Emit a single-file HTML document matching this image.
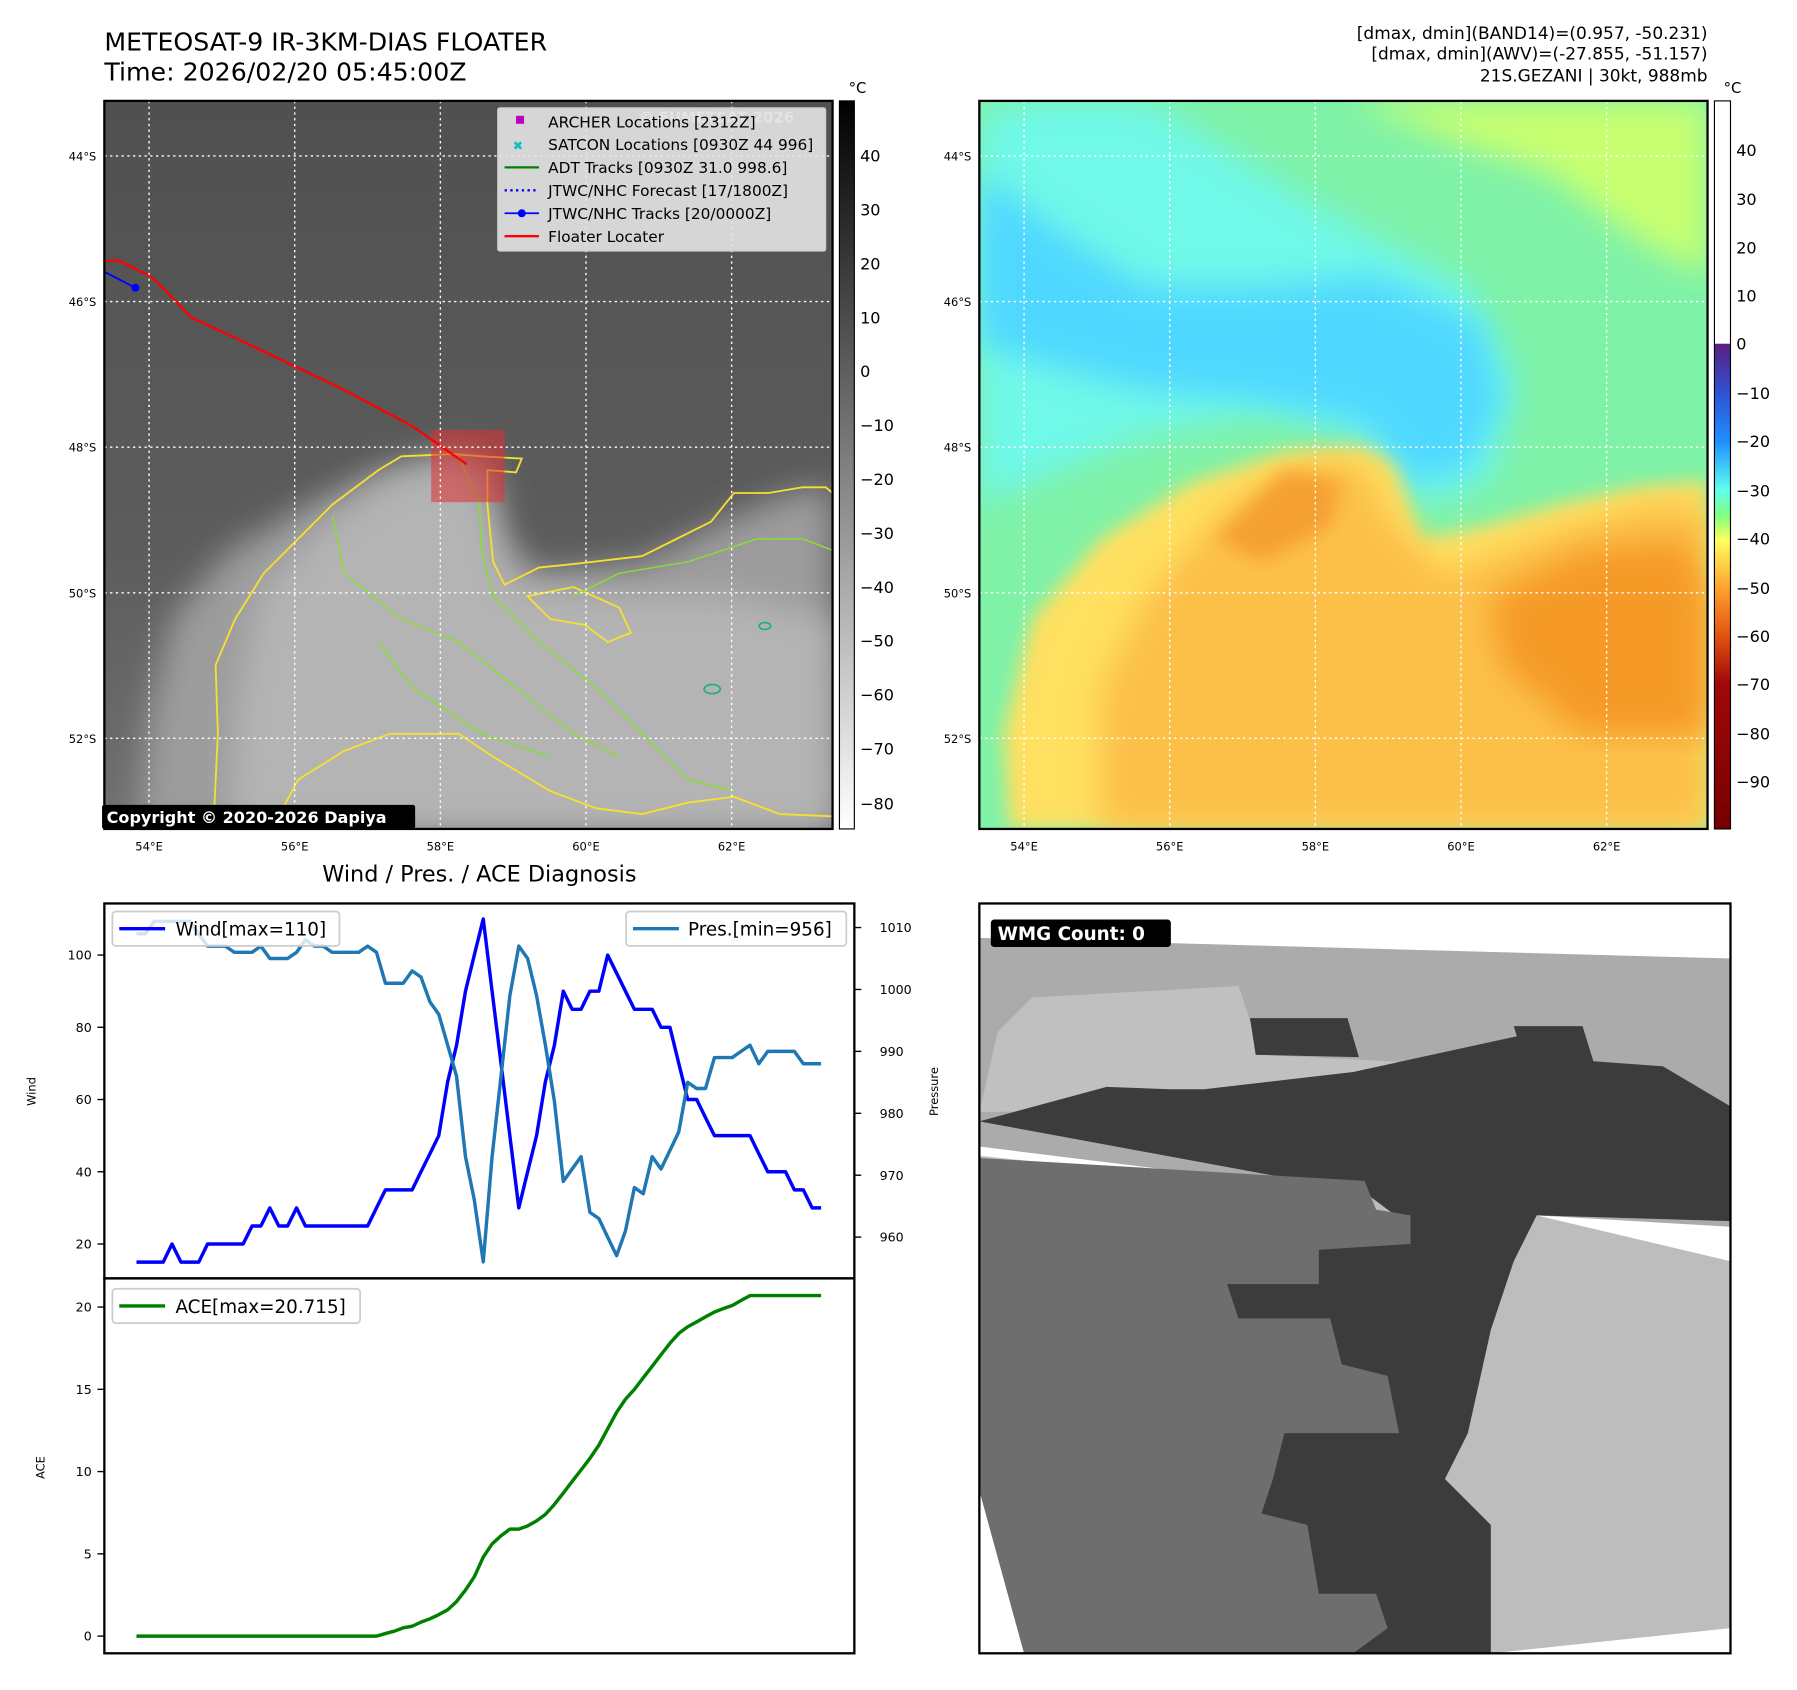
<!DOCTYPE html>
<html><head><meta charset="utf-8"><style>
html,body{margin:0;padding:0;background:#fff}
svg{display:block}
text{font-family:"DejaVu Sans","Liberation Sans",sans-serif}
</style></head><body>
<svg id="fig" xmlns="http://www.w3.org/2000/svg" width="1797" height="1690" viewBox="0 0 1567 1474" preserveAspectRatio="none">
<defs>
<filter id="blur8"><feGaussianBlur stdDeviation="8"/></filter>
<filter id="blur14"><feGaussianBlur stdDeviation="14"/></filter>
<clipPath id="c1"><rect x="91" y="88" width="635" height="635"/></clipPath>
<clipPath id="c2"><rect x="854" y="88" width="635" height="635"/></clipPath>
<clipPath id="c3"><rect x="854" y="788" width="655" height="654"/></clipPath>
<linearGradient id="gcb" x1="0" y1="0" x2="0" y2="1"><stop offset="0" stop-color="#000"/><stop offset="1" stop-color="#fff"/></linearGradient>
<linearGradient id="ccb" x1="0" y1="0" x2="0" y2="1">
<stop offset="0" stop-color="#fff"/><stop offset="0.333" stop-color="#fff"/>
<stop offset="0.334" stop-color="#5a2080"/><stop offset="0.40" stop-color="#3050d0"/>
<stop offset="0.468" stop-color="#1e90ff"/><stop offset="0.535" stop-color="#60fff0"/>
<stop offset="0.57" stop-color="#80ff80"/><stop offset="0.603" stop-color="#ffff60"/>
<stop offset="0.67" stop-color="#ffa030"/><stop offset="0.737" stop-color="#e05010"/>
<stop offset="0.80" stop-color="#a00808"/><stop offset="1" stop-color="#780000"/></linearGradient>
<linearGradient id="irbg" x1="0" y1="0" x2="0" y2="1"><stop offset="0" stop-color="#505050"/><stop offset="0.6" stop-color="#5c5c5c"/><stop offset="1" stop-color="#707070"/></linearGradient>
</defs>

<!-- Titles -->
<text x="91" y="44" font-size="22">METEOSAT-9 IR-3KM-DIAS FLOATER</text>
<text x="91" y="70" font-size="22">Time: 2026/02/20 05:45:00Z</text>
<g font-size="14.8" text-anchor="end">
<text x="1489" y="34">[dmax, dmin](BAND14)=(0.957, -50.231)</text>
<text x="1489" y="52">[dmax, dmin](AWV)=(-27.855, -51.157)</text>
<text x="1489" y="71">21S.GEZANI | 30kt, 988mb</text>
</g>

<!-- IR panel -->
<g clip-path="url(#c1)">
<rect x="91" y="88" width="635" height="635" fill="url(#irbg)"/>
<path d="M120,723 L130,620 L150,540 L200,480 L270,440 L330,410 L400,392 L430,405 L440,470 L470,500 L560,490 L630,455 L690,430 L726,425 L726,723 Z" fill="#9c9c9c" filter="url(#blur14)"/>
<path d="M200,723 L205,620 L225,520 L280,460 L340,420 L400,405 L425,440 L445,510 L540,520 L640,520 L726,540 L726,723 Z" fill="#b4b4b4" filter="url(#blur14)"/>
<path d="M186,723 L190,640 L188,580 L205,540 L230,500 L260,470 L290,440 L330,410 L350,398 L395,396 L420,398 L455,400 L450,412 L425,410 L425,440 L430,490 L440,510 L470,495 L500,492 L560,485 L590,470 L620,455 L640,430 L670,430 L700,425 L720,425 L726,430" fill="none" stroke="#f5e030" stroke-width="1.6"/>
<path d="M460,520 L500,512 L540,530 L550,552 L530,560 L510,545 L480,540 Z" fill="none" stroke="#f5e030" stroke-width="1.6"/>
<path d="M237,723 L260,680 L300,655 L340,640 L400,640 L430,660 L480,690 L520,705 L560,710 L600,700 L640,695 L680,710 L726,712" fill="none" stroke="#f5e030" stroke-width="1.6"/>
<path d="M400,398 L410,420 L418,440 L420,480 L430,520 L470,560 L520,600 L560,640 L600,680 L640,690 M290,450 L300,500 L350,540 L400,560 L450,600 L500,640 L540,660 M500,520 L540,500 L600,490 L660,470 L700,470 L726,480 M330,560 L360,600 L420,640 L480,660" fill="none" stroke="#88dd33" stroke-width="1.3"/>
<ellipse cx="621" cy="601" rx="7" ry="4" fill="none" stroke="#20b080" stroke-width="1.5"/>
<ellipse cx="667" cy="546" rx="5" ry="3" fill="none" stroke="#20b080" stroke-width="1.5"/>
<rect x="376" y="375" width="64" height="63" fill="#e03030" opacity="0.55"/>
<polyline points="91,228 103,227 133,242 167,277 210,297 300,340 360,372 407,405" fill="none" stroke="#ff0000" stroke-width="2"/>
<polyline points="91,237 118,251" fill="none" stroke="#0000ff" stroke-width="1.6"/>
<circle cx="118" cy="251" r="3.5" fill="#0000ff"/>
<g stroke="#fff" stroke-width="1.2" stroke-dasharray="2,3">
<line x1="130" y1="88" x2="130" y2="723"/><line x1="257" y1="88" x2="257" y2="723"/><line x1="384" y1="88" x2="384" y2="723"/><line x1="511" y1="88" x2="511" y2="723"/><line x1="638" y1="88" x2="638" y2="723"/>
<line x1="91" y1="136" x2="726" y2="136"/><line x1="91" y1="263" x2="726" y2="263"/><line x1="91" y1="390" x2="726" y2="390"/><line x1="91" y1="517" x2="726" y2="517"/><line x1="91" y1="644" x2="726" y2="644"/>
</g>
<text x="557" y="107" font-size="13" fill="#ddd" font-weight="bold">© EUMETSAT 2026</text>
</g>
<rect x="91" y="88" width="635" height="635" fill="none" stroke="#000" stroke-width="2"/>
<g>
<rect x="434" y="94" width="286" height="125" fill="#e4e4e4" fill-opacity="0.9" stroke="#ccc" rx="2"/>
<rect x="450" y="101" width="7" height="7" fill="#c000c0"/>
<text x="447" y="131" font-size="11" fill="#10c0c0" font-weight="bold">✖</text>
<line x1="440" y1="146" x2="470" y2="146" stroke="#008000" stroke-width="2"/>
<line x1="440" y1="166" x2="470" y2="166" stroke="#0000ff" stroke-width="2" stroke-dasharray="2,3"/>
<line x1="440" y1="186" x2="470" y2="186" stroke="#0000ff" stroke-width="1.6"/><circle cx="455" cy="186" r="3.5" fill="#0000ff"/>
<line x1="440" y1="206" x2="470" y2="206" stroke="#ff0000" stroke-width="2"/>
<g font-size="13.4">
<text x="478" y="111">ARCHER Locations [2312Z]</text>
<text x="478" y="131">SATCON Locations [0930Z 44 996]</text>
<text x="478" y="151">ADT Tracks [0930Z 31.0 998.6]</text>
<text x="478" y="171">JTWC/NHC Forecast [17/1800Z]</text>
<text x="478" y="191">JTWC/NHC Tracks [20/0000Z]</text>
<text x="478" y="211">Floater Locater</text>
</g></g>
<rect x="89" y="702" width="273" height="21" fill="#000" rx="2"/>
<text x="93" y="718" font-size="14" fill="#fff" font-weight="bold">Copyright © 2020-2026 Dapiya</text>

<!-- IR colorbar -->
<rect x="732" y="88" width="13" height="635" fill="url(#gcb)" stroke="#000" stroke-width="1"/>
<text x="740" y="81" font-size="13">°C</text>
<g font-size="14">
<text x="750" y="141">40</text><text x="750" y="188">30</text><text x="750" y="235">20</text><text x="750" y="282">10</text><text x="750" y="329">0</text>
<text x="750" y="376">−10</text><text x="750" y="423">−20</text><text x="750" y="470">−30</text><text x="750" y="517">−40</text><text x="750" y="564">−50</text><text x="750" y="611">−60</text><text x="750" y="658">−70</text><text x="750" y="706">−80</text>
</g>

<!-- AWV panel -->
<g clip-path="url(#c2)">
<rect x="854" y="88" width="635" height="635" fill="#7ff2a8"/>
<path d="M854,100 L900,88 L1000,88 L1150,180 L1280,250 L1320,330 L1300,420 L1240,440 L1180,380 L1100,360 L1000,380 L900,420 L854,440 Z" fill="#70f8e8" filter="url(#blur14)"/>
<path d="M854,150 L920,200 L1000,250 L1100,250 L1200,240 L1290,280 L1310,350 L1280,410 L1230,420 L1190,370 L1100,350 L1000,340 L920,320 L854,300 Z" fill="#50d8ff" filter="url(#blur14)"/>
<path d="M1180,88 L1489,88 L1489,240 L1430,210 L1350,150 L1260,120 Z" fill="#c8ff70" filter="url(#blur14)"/>
<path d="M880,723 L875,640 L900,540 L960,470 L1040,420 L1120,395 L1190,390 L1215,405 L1240,470 L1290,460 L1360,440 L1430,425 L1489,420 L1489,723 Z" fill="#ffe060" filter="url(#blur8)"/>
<path d="M960,723 L960,600 L1000,520 L1070,440 L1140,400 L1190,405 L1210,450 L1260,500 L1340,470 L1430,440 L1489,440 L1489,723 Z" fill="#fcc048" filter="url(#blur14)"/>
<path d="M1060,470 L1120,410 L1170,420 L1160,460 L1100,490 Z" fill="#f5a030" filter="url(#blur8)"/>
<path d="M1300,520 L1380,480 L1470,470 L1489,520 L1489,640 L1380,640 L1310,580 Z" fill="#f59a28" filter="url(#blur14)"/>
<g stroke="#fff" stroke-width="1.2" stroke-dasharray="2,3">
<line x1="893" y1="88" x2="893" y2="723"/><line x1="1020" y1="88" x2="1020" y2="723"/><line x1="1147" y1="88" x2="1147" y2="723"/><line x1="1274" y1="88" x2="1274" y2="723"/><line x1="1401" y1="88" x2="1401" y2="723"/>
<line x1="854" y1="136" x2="1489" y2="136"/><line x1="854" y1="263" x2="1489" y2="263"/><line x1="854" y1="390" x2="1489" y2="390"/><line x1="854" y1="517" x2="1489" y2="517"/><line x1="854" y1="644" x2="1489" y2="644"/>
</g></g>
<rect x="854" y="88" width="635" height="635" fill="none" stroke="#000" stroke-width="2"/>
<rect x="1495" y="88" width="14" height="635" fill="url(#ccb)" stroke="#000" stroke-width="1"/>
<text x="1503" y="81" font-size="13">°C</text>
<g font-size="14">
<text x="1514" y="136">40</text><text x="1514" y="179">30</text><text x="1514" y="221">20</text><text x="1514" y="263">10</text><text x="1514" y="305">0</text>
<text x="1514" y="348">−10</text><text x="1514" y="390">−20</text><text x="1514" y="433">−30</text><text x="1514" y="475">−40</text><text x="1514" y="518">−50</text><text x="1514" y="560">−60</text><text x="1514" y="602">−70</text><text x="1514" y="645">−80</text><text x="1514" y="687">−90</text>
</g>

<!-- lat/lon labels -->
<g font-size="10">
<g text-anchor="end"><text x="84" y="140">44°S</text><text x="84" y="267">46°S</text><text x="84" y="394">48°S</text><text x="84" y="521">50°S</text><text x="84" y="648">52°S</text>
<text x="847" y="140">44°S</text><text x="847" y="267">46°S</text><text x="847" y="394">48°S</text><text x="847" y="521">50°S</text><text x="847" y="648">52°S</text></g>
<g text-anchor="middle"><text x="130" y="742">54°E</text><text x="257" y="742">56°E</text><text x="384" y="742">58°E</text><text x="511" y="742">60°E</text><text x="638" y="742">62°E</text>
<text x="893" y="742">54°E</text><text x="1020" y="742">56°E</text><text x="1147" y="742">58°E</text><text x="1274" y="742">60°E</text><text x="1401" y="742">62°E</text></g>
</g>

<!-- WMG panel -->
<g clip-path="url(#c3)">
<rect x="854" y="788" width="655" height="654" fill="#fff"/>
<path d="M854,818 L1509,836 L1509,1070 L1340,1060 L854,1000 Z" fill="#ababab"/>
<path d="M900,870 L1080,860 L1100,920 L1300,930 L1330,960 L1400,960 L854,970 L870,900 Z" fill="#c0c0c0"/>
<path d="M854,1008 L854,1300 L893,1442 L1300,1442 L1509,1420 L1509,1100 L1340,1060 Z" fill="#bdbdbd"/>
<path d="M854,978 L965,948 L1020,950 L1050,950 L1180,935 L1340,900 L1380,925 L1450,930 L1509,965 L1509,1065 L1340,1060 L1320,1100 L1300,1160 L1280,1250 L1260,1290 L1300,1330 L1300,1442 L1180,1442 L1100,1350 L1090,1290 L1130,1230 L1070,1150 L1070,1120 L1150,1085 L1230,1070 L1190,1040 Z" fill="#3c3c3c"/>
<path d="M1090,888 L1175,888 L1185,922 L1095,920 Z M1320,895 L1380,895 L1400,960 L1340,960 Z" fill="#3c3c3c"/>
<path d="M854,1010 L1190,1030 L1200,1055 L1230,1060 L1230,1085 L1150,1090 L1150,1120 L1070,1120 L1080,1150 L1160,1150 L1170,1190 L1210,1200 L1220,1250 L1120,1250 L1110,1290 L1100,1320 L1140,1330 L1150,1390 L1200,1390 L1210,1420 L1180,1442 L893,1442 L854,1300 Z" fill="#6e6e6e"/>
<rect x="864" y="802" width="157" height="24" rx="3" fill="#000"/>
<text x="870" y="820" font-size="16" font-weight="bold" fill="#fff">WMG Count: 0</text>
</g>
<rect x="854" y="788" width="655" height="654" fill="none" stroke="#000" stroke-width="2"/>

<!-- Diagnosis chart -->
<text x="418" y="769" font-size="19.5" text-anchor="middle">Wind / Pres. / ACE Diagnosis</text>
<g id="chart"></g>
</svg>
<script>
const windVals=[15,15,15,15,20,15,15,15,20,20,20,20,20,25,25,30,25,25,30,25,25,25,25,25,25,25,25,30,35,35,35,35,40,45,50,65,75,90,100,110,90,70,50,30,40,50,65,75,90,85,85,90,90,100,95,90,85,85,85,80,80,70,60,60,55,50,50,50,50,50,45,40,40,40,35,35,30,30];
const presVals=[1009,1009,1011,1011,1011,1011,1011,1009,1007,1007,1007,1006,1006,1006,1007,1005,1005,1005,1006,1008,1007,1007,1006,1006,1006,1006,1007,1006,1001,1001,1001,1003,1002,998,996,991,986,973,966,956,973,986,999,1007,1005,999,991,982,969,971,973,964,963,960,957,961,968,967,973,971,974,977,985,984,984,989,989,989,990,991,988,990,990,990,990,988,988,988];
const aceVals=[0,0,0,0,0,0,0,0,0,0,0,0,0,0,0,0,0,0,0,0,0,0,0,0,0,0,0,0,0.15,0.3,0.5,0.6,0.85,1.05,1.3,1.6,2.1,2.8,3.6,4.8,5.6,6.1,6.5,6.5,6.7,7.0,7.4,8.0,8.7,9.4,10.1,10.8,11.6,12.6,13.6,14.4,15.0,15.7,16.4,17.1,17.8,18.4,18.8,19.1,19.4,19.7,19.9,20.1,20.4,20.7,20.7,20.7,20.7,20.7,20.7,20.7,20.7,20.7];
const windTicks=[20,40,60,80,100];
const presTicks=[960,970,980,990,1000,1010];
const aceTicks=[0,5,10,15,20];

const NS='http://www.w3.org/2000/svg';
const g=document.getElementById('chart');
const n=windVals.length;
function xS(i){return 119+i*(716-119)/(n-1);}
function yWind(v){return 833+(100-v)*3.15;}
function yPres(p){return 809+(1010-p)*5.4;}
function yAce(a){return 1427-a*14.35;}
function mk(tag,attrs){const e=document.createElementNS(NS,tag);for(const k in attrs)e.setAttribute(k,attrs[k]);g.appendChild(e);return e;}
function txt(x,y,s,size,anchor,rot){const e=mk('text',{x:x,y:y,'font-size':size,'text-anchor':anchor||'start'});if(rot)e.setAttribute('transform','rotate(-90 '+x+' '+y+')');e.textContent=s;return e;}

let f1=mk('rect',{x:91,y:788,width:654,height:327,fill:'none',stroke:'#000','stroke-width':2});


let f2=mk('rect',{x:91,y:1115,width:654,height:327,fill:'none',stroke:'#000','stroke-width':2});



windTicks.forEach(v=>{const y=yWind(v);mk('line',{x1:85,y1:y,x2:91,y2:y,stroke:'#000','stroke-width':1.2});
 const t=txt(80,y+4,String(v),11,'end');
 
 });
presTicks.forEach(v=>{const y=yPres(v);mk('line',{x1:745,y1:y,x2:751,y2:y,stroke:'#000','stroke-width':1.2});
 const t=txt(767,y+4,String(v),11,'start');
 
 });
aceTicks.forEach(v=>{const y=yAce(v);mk('line',{x1:85,y1:y,x2:91,y2:y,stroke:'#000','stroke-width':1.2});
 const t=txt(80,y+4,String(v),11,'end');
 
 });
let l1=txt(31,952,'Wind',10,'middle',true);


let l2=txt(818,952,'Pressure',10,'middle',true);


let l3=txt(39,1280,'ACE',10,'middle',true);



function pts(arr,yf){return arr.map((v,i)=>xS(i).toFixed(1)+','+yf(v).toFixed(1)).join(' ');}
let wl=mk('polyline',{points:pts(windVals,yWind),fill:'none',stroke:'#0000ff','stroke-width':3,'stroke-linejoin':'round'});


let pl=mk('polyline',{points:pts(presVals,yPres),fill:'none',stroke:'#1f77b4','stroke-width':3,'stroke-linejoin':'round'});


let al=mk('polyline',{points:pts(aceVals,yAce),fill:'none',stroke:'#008000','stroke-width':3,'stroke-linejoin':'round'});



let lg1=mk('rect',{x:98,y:795,width:198,height:30,fill:'#fff','fill-opacity':0.8,stroke:'#ccc','stroke-width':1.5,rx:3});


mk('line',{x1:104,y1:810,x2:144,y2:810,stroke:'#0000ff','stroke-width':3});
txt(153,816,'Wind[max=110]',16,'start');
let lg2=mk('rect',{x:546,y:795,width:192,height:30,fill:'#fff','fill-opacity':0.8,stroke:'#ccc','stroke-width':1.5,rx:3});


mk('line',{x1:552,y1:810,x2:592,y2:810,stroke:'#1f77b4','stroke-width':3});
txt(600,816,'Pres.[min=956]',16,'start');
let lg3=mk('rect',{x:98,y:1124,width:216,height:30,fill:'#fff','fill-opacity':0.8,stroke:'#ccc','stroke-width':1.5,rx:3});


mk('line',{x1:104,y1:1139,x2:144,y2:1139,stroke:'#008000','stroke-width':3});
txt(153,1145,'ACE[max=20.715]',16,'start');
</script>
</body></html>
